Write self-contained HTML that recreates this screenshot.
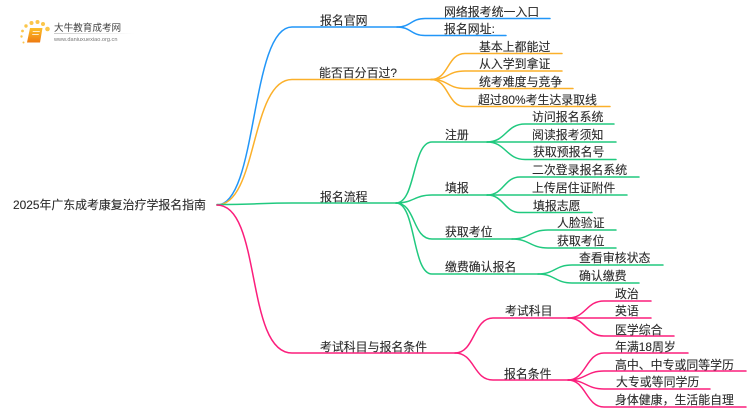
<!DOCTYPE html>
<html><head><meta charset="utf-8">
<style>
html,body{margin:0;padding:0;background:#fff;width:750px;height:410px;overflow:hidden}
svg{display:block;filter:blur(.3px)}
text{font-family:"Liberation Sans","Noto Sans CJK SC",sans-serif;font-size:11.9px;fill:#2c2c2c;stroke:#2c2c2c;stroke-width:.12px}
path{fill:none;stroke-width:1.5;stroke-linecap:round}
.b path{stroke:#2196f8}.o path{stroke:#fbb02a}.g path{stroke:#20c97f}.p path{stroke:#fb1e7c}
</style></head><body>
<svg width="750" height="410" viewBox="0 0 750 410" xmlns="http://www.w3.org/2000/svg">
<defs><linearGradient id="u" x1="0" x2="1" y1="0" y2="0"><stop offset="0" stop-color="#ccc"/><stop offset="1" stop-color="#fff"/></linearGradient>
<linearGradient id="bk" x1="0" x2="0" y1="0" y2="1"><stop offset="0" stop-color="#fcc02a"/><stop offset="1" stop-color="#ee7a10"/></linearGradient></defs>
<!-- logo -->
<g fill="#fbc64a"><circle cx="47.500" cy="29" r="2.300"/><circle cx="43" cy="24" r="2"/><circle cx="37.500" cy="22" r="2"/><circle cx="31.500" cy="23" r="2"/><circle cx="26" cy="26" r="1.700"/><circle cx="22.500" cy="31" r="1.400"/><circle cx="21.500" cy="36.500" r="1.200"/><circle cx="23.500" cy="42.500" r="1"/></g>
<path d="M30 28H42.500L40 42.500H27Z" style="fill:url(#bk);stroke:none"/>
<path d="M33 31.500H39.500M32.500 34.500H38.500" style="stroke:#fff;stroke-width:.8"/>
<rect x="54" y="33" width="80" height="1" fill="url(#u)"/>
<text x="54" y="31" style="font-size:9.600px;fill:#444;stroke:none">大牛教育成考网</text>
<text x="54" y="41" style="font-size:5.600px;fill:#777;stroke:none">www.daniuxuexiao.org.cn</text>

<g class="b">
<path d="M217 205C258 205 250 27 292 27H397"/>
<path d="M397 27C411 27 411 18.500 425 18.500H550"/>
<path d="M397 27C411 27 411 35.500 425 35.500H506"/>
</g>
<g class="o">
<path d="M217 205C258 205 250 79.500 292 79.500H431"/>
<path d="M431 79.500C449 79.500 447 53.500 465 53.500H562"/>
<path d="M431 79.500C449 79.500 447 71 465 71H562"/>
<path d="M431 79.500C449 79.500 447 88.500 465 88.500H573"/>
<path d="M431 79.500C449 79.500 447 106.500 465 106.500H610"/>
</g>
<g class="g">
<path d="M217 204.500C260 204.500 260 203 292 203H396"/>
<path d="M396 203C416 203 412 142 432 142H487"/>
<path d="M396 203C414 203 414 195 432 195H487"/>
<path d="M396 203C416 203 412 239 432 239H512"/>
<path d="M396 203C416 203 412 274 432 274H538"/>
<path d="M487 142C506 142 506 124 525 124H614"/>
<path d="M487 142H616"/>
<path d="M487 142C506 142 506 159.500 525 159.500H616"/>
<path d="M487 195C504 195 504 177 520 177H639"/>
<path d="M487 195H627"/>
<path d="M487 195C504 195 504 212.500 520 212.500H592"/>
<path d="M512 239C530 239 530 230 548 230H616"/>
<path d="M512 239C530 239 530 248 548 248H616"/>
<path d="M538 274C555 274 555 265 572 265H663"/>
<path d="M538 274C555 274 555 283 572 283H639"/>
</g>
<g class="p">
<path d="M217 205C262 205 245 353 292 353H455"/>
<path d="M455 353C475 353 473 318 493 318H568"/>
<path d="M455 353C475 353 473 380 493 380H568"/>
<path d="M568 318C586 318 586 301 604 301H651"/>
<path d="M568 318H651"/>
<path d="M568 318C586 318 586 336 604 336H674"/>
<path d="M568 380C586 380 586 353 604 353H688"/>
<path d="M568 380C586 380 586 371 604 371H746"/>
<path d="M568 380C586 380 586 389 604 389H710"/>
<path d="M568 380C586 380 586 407 604 407H746"/>
</g>

<text x="13" y="209">2025年广东成考康复治疗学报名指南</text>
<text x="320" y="24.500">报名官网</text>
<text x="319" y="77">能否百分百过?</text>
<text x="320" y="201">报名流程</text>
<text x="320" y="351">考试科目与报名条件</text>
<text x="444" y="16">网络报考统一入口</text>
<text x="444" y="33">报名网址:</text>
<text x="479" y="51">基本上都能过</text>
<text x="479" y="68">从入学到拿证</text>
<text x="479" y="86">统考难度与竞争</text>
<text x="478" y="104">超过80%考生达录取线</text>
<text x="445" y="139">注册</text>
<text x="445" y="192">填报</text>
<text x="445" y="236">获取考位</text>
<text x="445" y="271">缴费确认报名</text>
<text x="532" y="121">访问报名系统</text>
<text x="532" y="139">阅读报考须知</text>
<text x="533" y="156">获取预报名号</text>
<text x="532" y="174">二次登录报名系统</text>
<text x="532" y="192">上传居住证附件</text>
<text x="533" y="210">填报志愿</text>
<text x="557" y="227">人脸验证</text>
<text x="557" y="245">获取考位</text>
<text x="579" y="262">查看审核状态</text>
<text x="579" y="280">确认缴费</text>
<text x="505" y="315">考试科目</text>
<text x="504" y="378">报名条件</text>
<text x="615" y="298">政治</text>
<text x="615" y="315">英语</text>
<text x="615" y="334">医学综合</text>
<text x="615" y="351">年满18周岁</text>
<text x="615" y="369">高中、中专或同等学历</text>
<text x="616" y="386">大专或等同学历</text>
<text x="615" y="404">身体健康，生活能自理</text>
</svg>
</body></html>
